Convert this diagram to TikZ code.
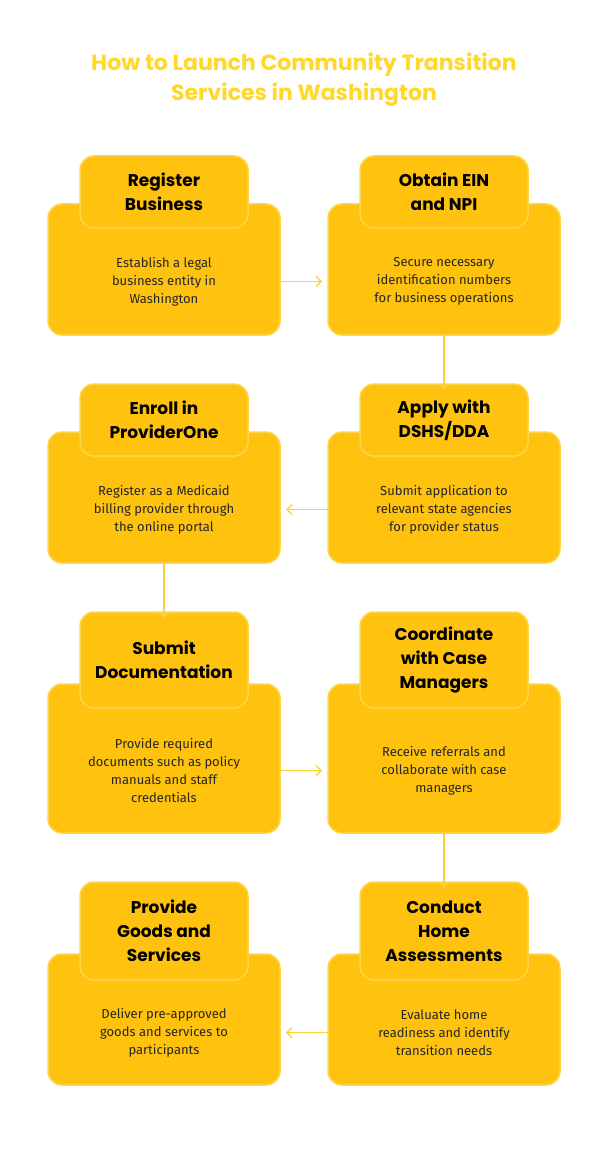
\documentclass[tikz,border=0pt]{standalone}
\usepackage{fontspec}
\setmainfont{Poppins}
\newfontfamily\bodyf{Fira Sans}
\usetikzlibrary{arrows.meta}
\definecolor{boxfill}{HTML}{FFC20E}
\definecolor{boxline}{HTML}{FFD54A}
\definecolor{ttl}{HTML}{FFD82A}
\definecolor{arr}{HTML}{F7D23A}
\tikzset{
 body/.style={draw=boxline,line width=1.5pt,fill=boxfill,rounded corners=14pt},
 tab/.style={draw=boxline,line width=1.5pt,fill=boxfill,rounded corners=14pt},
 head/.style={font=\bfseries\fontsize{17}{24}\selectfont,align=center,text=black},
 txt/.style={font=\bodyf\fontsize{13}{18}\selectfont,align=center,text=black!85},
 conn/.style={arr,line width=1.3pt,-{Straight Barb[length=5pt,width=10pt]}}
}
\newcommand{\stepbox}[8]{% name, xleft, bodytop, bodybot, tabtop, tabbot, head, text
 \draw[body] (#2,#3) rectangle (#2+232,#4);
 \draw[tab] (#2+32,#5) rectangle (#2+200,#6);
 \node[head] (#1h) at (#2+116,{(#5+#6)/2}) {#7};
 \node[txt] (#1t) at (#2+116,{(#6+#4)/2}) {#8};
 \coordinate (#1L) at (#2,{(#6+#4)/2});
 \coordinate (#1R) at (#2+232,{(#6+#4)/2});
 \coordinate (#1B) at (#2+116,#4);
 \coordinate (#1T) at (#2+116,#5);
}
\begin{document}
\begin{tikzpicture}[x=1pt,y=-1pt]
\useasboundingbox[fill=white] (0,0) rectangle (608,1158);
\node[font=\bfseries\fontsize{22}{30}\selectfont,text=ttl,align=center] (title) at (304,80) {How to Launch Community Transition\\Services in Washington};
\stepbox{a}{48}{204}{335}{156}{228}{Register\\Business}{Establish a legal\\business entity in\\Washington}
\stepbox{b}{328}{204}{335}{156}{228}{Obtain EIN\\and NPI}{Secure necessary\\identification numbers\\for business operations}
\stepbox{d}{48}{432}{563}{384}{456}{Enroll in\\ProviderOne}{Register as a Medicaid\\billing provider through\\the online portal}
\stepbox{c}{328}{432}{563}{384}{456}{Apply with\\DSHS/DDA}{Submit application to\\relevant state agencies\\for provider status}
\stepbox{e}{48}{684}{833}{612}{708}{Submit\\Documentation}{Provide required\\documents such as policy\\manuals and staff\\credentials}
\stepbox{f}{328}{684}{833}{612}{708}{Coordinate\\with Case\\Managers}{Receive referrals and\\collaborate with case\\managers}
\stepbox{h}{48}{954}{1085}{882}{980}{Provide\\Goods and\\Services}{Deliver pre-approved\\goods and services to\\participants}
\stepbox{g}{328}{954}{1085}{882}{980}{Conduct\\Home\\Assessments}{Evaluate home\\readiness and identify\\transition needs}
\draw[conn] (aR) -- ([xshift=-6pt]bL);
\draw[conn] (bB) -- ([yshift=-6pt]cT);
\draw[conn] (cL) -- ([xshift=6pt]dR);
\draw[conn] (dB) -- ([yshift=-6pt]eT);
\draw[conn] (eR) -- ([xshift=-6pt]fL);
\draw[conn] (fB) -- ([yshift=-6pt]gT);
\draw[conn] (gL) -- ([xshift=6pt]hR);
\end{tikzpicture}
\end{document}
